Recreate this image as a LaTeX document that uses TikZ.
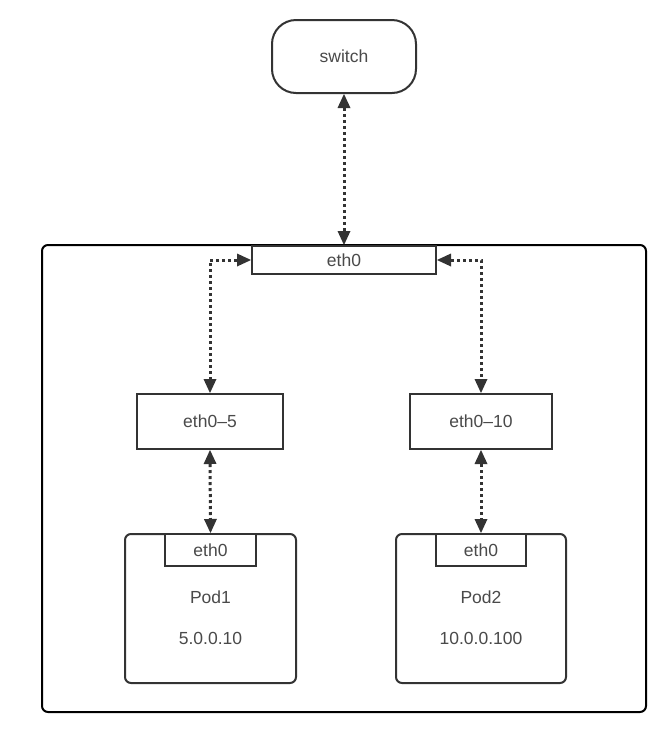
\documentclass[tikz,border=0pt]{standalone}
\usepackage{fontspec}
\setmainfont{Liberation Sans}
\usetikzlibrary{arrows.meta}
\definecolor{txt}{HTML}{4A4A4A}
\definecolor{edge}{HTML}{333333}
\begin{document}
\begin{tikzpicture}[x=1pt,y=-1pt,
  every node/.style={font=\fontsize{17.5}{20}\selectfont, text=txt},
  boxy/.style={draw=edge, line width=2pt, fill=white, inner sep=0pt},
  link/.style={draw=edge, line width=3pt, dash pattern=on 3pt off 3pt,
    {Triangle[length=14pt,width=13pt,line width=0pt]}-{Triangle[length=14pt,width=13pt,line width=0pt]}}
]
\useasboundingbox (0,0) rectangle (666,732);
\fill[white] (0,0) rectangle (666,732);
% host container
\node[draw=black, line width=2pt, rounded corners=6pt, minimum width=604pt, minimum height=467pt, inner sep=0pt] (host) at (344,478.5) {};
% switch
\node[boxy, rounded corners=24pt, minimum width=144pt, minimum height=73pt] (switch) at (344,56.5) {switch};
% eth0 on host
\node[boxy, minimum width=184pt, minimum height=28pt] (eth0) at (344,260) {eth0};
% veth ends
\node[boxy, minimum width=146pt, minimum height=55pt] (eth05) at (210,421.5) {eth0–5};
\node[boxy, minimum width=142pt, minimum height=55pt] (eth010) at (481,421.5) {eth0–10};
% pods
\node[boxy, rounded corners=6pt, minimum width=171pt, minimum height=149pt] (pod1) at (210.5,608.5) {};
\node[boxy, rounded corners=6pt, minimum width=170pt, minimum height=149pt] (pod2) at (481,608.5) {};
\node[boxy, anchor=north, minimum width=91pt, minimum height=32pt] (p1eth) at (pod1.north) {eth0};
\node[boxy, anchor=north, minimum width=90pt, minimum height=32pt] (p2eth) at (pod2.north) {eth0};
\node (p1name) at (210.5,597) {Pod1};
\node (p1ip) at (210.5,638) {5.0.0.10};
\node (p2name) at (481,597) {Pod2};
\node (p2ip) at (481,638) {10.0.0.100};
% connectors
\draw[link] (switch.south) -- (eth0.north);
\draw[link] (eth0.west) -| (eth05.north);
\draw[link] (eth0.east) -| (eth010.north);
\draw[link] (eth05.south) -- (p1eth.north);
\draw[link] (eth010.south) -- (p2eth.north);
\end{tikzpicture}
\end{document}
